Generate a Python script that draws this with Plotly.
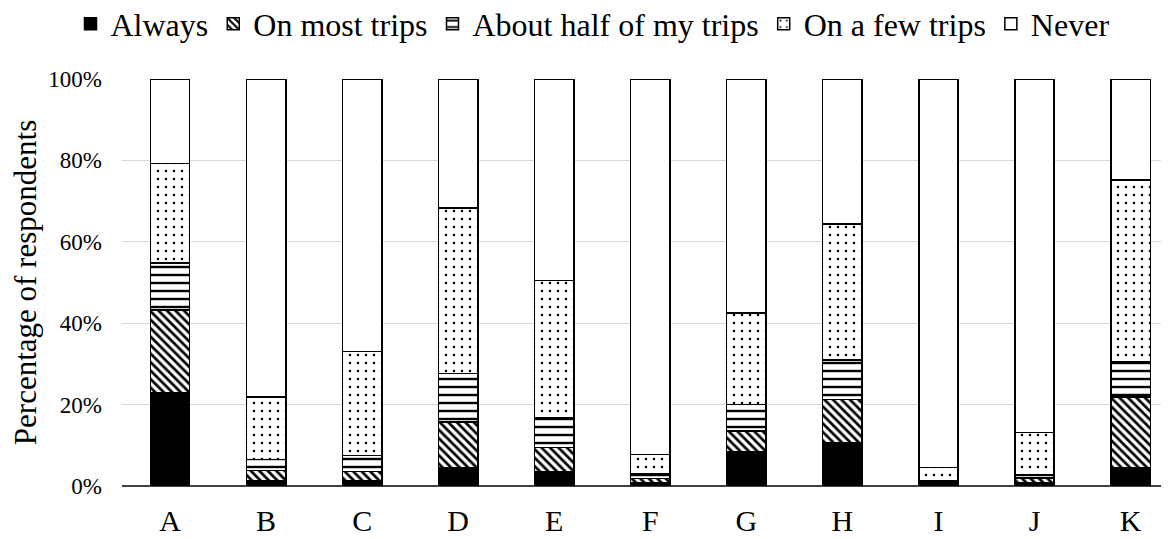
import plotly.graph_objects as go

categories = ["A", "B", "C", "D", "E", "F", "G", "H", "I", "J", "K"]
always =      [22.9, 1.4, 1.4,  4.5,  3.4, 0.8,  8.5, 10.7, 1.0, 0.9,  4.5]
most_trips =  [20.4, 2.4, 2.2, 11.2,  6.0, 1.0,  5.0, 10.5, 0.1, 1.1, 17.4]
half_trips =  [11.5, 2.7, 3.9, 11.9,  7.3, 1.2,  6.5,  9.8, 0.1, 0.8,  8.7]
few_trips =   [24.5, 15.4, 25.5, 40.7, 33.8, 4.7, 22.5, 33.4, 3.3, 10.4, 44.6]
never =       [20.7, 78.1, 67.0, 31.7, 49.5, 92.3, 57.5, 35.6, 95.5, 86.8, 24.8]

series_names = ["Always", "On most trips", "About half of my trips", "On a few trips", "Never"]
series_values = [always, most_trips, half_trips, few_trips, never]

y_ticks = [0, 20, 40, 60, 80, 100]
y_tick_labels = ["0%", "20%", "40%", "60%", "80%", "100%"]

FONT = "Liberation Serif"
LEGEND_FONT = "Times New Roman"

patterns = [
    dict(shape=""),
    dict(shape="\\", size=6, solidity=0.45, fgcolor="black", bgcolor="white", fillmode="replace"),
    dict(shape="-", size=8, solidity=0.3, fgcolor="black", bgcolor="white", fillmode="replace"),
    dict(shape=".", size=8, solidity=0.08, fgcolor="black", bgcolor="white", fillmode="replace"),
    dict(shape=""),
]
colors = ["black", "white", "white", "white", "white"]

fig = go.Figure()
for name, vals, pat, col in zip(series_names, series_values, patterns, colors):
    fig.add_trace(go.Bar(
        x=categories, y=vals, name=name,
        marker=dict(color=col, pattern=pat, line=dict(color="black", width=1.5)),
    ))

fig.update_layout(
    width=1169, height=539,
    barmode="stack", bargap=0.59,
    plot_bgcolor="white", paper_bgcolor="white",
    margin=dict(l=114, r=8, t=71, b=61, autoexpand=False),
    font=dict(family=FONT, color="black"),
    showlegend=True,
    legend=dict(
        orientation="h", xref="container", yref="paper",
        x=0.5, xanchor="center", y=1.135, yanchor="middle",
        font=dict(size=32, family=LEGEND_FONT), itemwidth=30,
        traceorder="normal", bgcolor="rgba(0,0,0,0)",
    ),
    xaxis=dict(
        range=[-0.5, 10.4], showgrid=False, showline=False,
        tickfont=dict(size=30, family=FONT), ticks="", ticklabelstandoff=14,
    ),
    yaxis=dict(
        range=[0, 100], tickmode="array", tickvals=y_ticks, ticktext=y_tick_labels,
        showgrid=True, gridcolor="#d9d9d9", gridwidth=1,
        zeroline=True, zerolinecolor="#404040", zerolinewidth=1.5,
        showline=False, tickfont=dict(size=23, family=FONT), ticklabelstandoff=19,
        title=dict(text="Percentage of respondents", font=dict(size=31, family=FONT), standoff=10),
    ),
)

fig.write_html("out.html")
